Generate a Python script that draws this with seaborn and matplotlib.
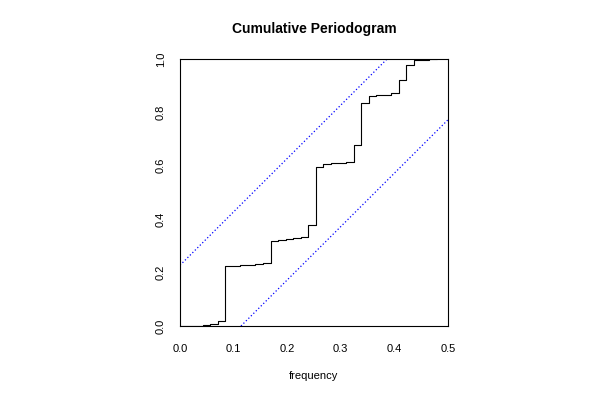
import numpy as np
import pandas as pd
import seaborn as sns
import matplotlib
matplotlib.use("Agg")
import matplotlib.pyplot as plt

# cumulative periodogram values (step plot)
freq = [0.0, 0.0141, 0.0282, 0.0423, 0.0563, 0.0704, 0.0845, 0.0986, 0.1127,
        0.1268, 0.1408, 0.1549, 0.1690, 0.1831, 0.1972, 0.2113, 0.2254, 0.2394,
        0.2535, 0.2676, 0.2817, 0.2958, 0.3099, 0.3239, 0.3380, 0.3521, 0.3662,
        0.3803, 0.3944, 0.4085, 0.4225, 0.4366, 0.4507, 0.4648, 0.4789]
cum_pgram = [0.0, 0.0005, 0.001, 0.002, 0.0075, 0.0175, 0.226, 0.226, 0.227,
             0.228, 0.231, 0.235, 0.320, 0.323, 0.325, 0.328, 0.335, 0.378,
             0.595, 0.605, 0.610, 0.612, 0.615, 0.679, 0.836, 0.861, 0.864,
             0.865, 0.872, 0.920, 0.9775, 0.996, 0.998, 0.999, 1.0]

# confidence band lines (blue dashed)
upper_x = [0.0, 0.38625]
upper_y = [0.2275, 1.0]
lower_x = [0.11375, 0.5]
lower_y = [0.0, 0.7725]

x_ticks = [0.0, 0.1, 0.2, 0.3, 0.4, 0.5]
y_ticks = [0.0, 0.2, 0.4, 0.6, 0.8, 1.0]

sns.set_style("white")
plt.rcParams['font.family'] = ['Liberation Sans', 'DejaVu Sans']
plt.rcParams['text.color'] = 'black'
plt.rcParams['axes.labelcolor'] = 'black'
plt.rcParams['xtick.color'] = 'black'
plt.rcParams['ytick.color'] = 'black'

fig = plt.figure(figsize=(6, 4), dpi=100)
ax = fig.add_axes([0.3, 0.185, 0.4467, 0.6675])

df = pd.DataFrame({'frequency': freq, 'cp': cum_pgram})
sns.lineplot(data=df, x='frequency', y='cp', ax=ax, color='black',
             linewidth=0.8, drawstyle='steps-post', estimator=None)
sns.lineplot(x=upper_x, y=upper_y, ax=ax, color='blue', linewidth=0.9,
             linestyle=(0, (1.0, 1.8)), estimator=None)
sns.lineplot(x=lower_x, y=lower_y, ax=ax, color='blue', linewidth=0.9,
             linestyle=(0, (1.0, 1.8)), estimator=None)

ax.set_xlim(0, 0.5)
ax.set_ylim(0, 1)
ax.set_xticks(x_ticks)
ax.set_yticks(y_ticks)
ax.set_xticklabels([f"{t:.1f}" for t in x_ticks], fontsize=8)
ax.set_yticklabels([f"{t:.1f}" for t in y_ticks], fontsize=8,
                   rotation=90, va='center')
ax.tick_params(direction='out', length=5, width=0.7, color='black')
ax.tick_params(axis='x', pad=8)
ax.tick_params(axis='y', pad=5)
for s in ax.spines.values():
    s.set_color('black')
    s.set_linewidth(0.8)
ax.set_xlabel('frequency', fontsize=8, labelpad=12)
ax.set_ylabel('')
ax.set_title('Cumulative Periodogram', fontsize=10, fontweight='bold', pad=19)

fig.savefig('out.png', dpi=100)
